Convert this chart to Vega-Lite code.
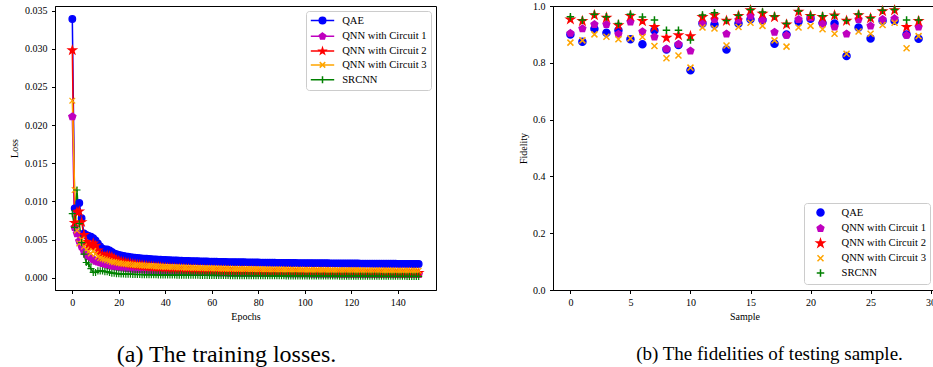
{
"$schema": "https://vega.github.io/schema/vega-lite/v6.json",
"background": "white",
"padding": {"left": 9, "top": 0, "right": 0, "bottom": 0},
"bounds": "flush",
"spacing": 117,
"config": {
  "view": {"stroke": "black", "strokeWidth": 1},
  "font": "Liberation Serif",
  "axis": {"grid": false, "domainColor": "black", "tickColor": "black", "labelColor": "black", "titleColor": "black", "labelFont": "Liberation Serif", "titleFont": "Liberation Serif", "labelFontSize": 10, "titleFontSize": 10, "titleFontWeight": "normal", "tickSize": 3.5, "labelPadding": 4, "titlePadding": 4, "domainWidth": 1, "tickWidth": 1},
  "legend": {"labelFont": "Liberation Serif", "labelFontSize": 10.6, "labelColor": "black"}
},
"resolve": {"scale": {"color": "independent", "fill": "independent", "stroke": "independent", "shape": "independent"}, "legend": {"color": "independent", "fill": "independent", "stroke": "independent", "shape": "independent"}},
"datasets": {
"leg": [{"k":"a","e":0,"v":0},{"k":"b","e":0,"v":0},{"k":"c","e":0,"v":0},{"k":"d","e":0,"v":0},{"k":"f","e":0,"v":0}],
"fid": [
{"s":0,"a":0.900,"b":0.904,"c":0.953,"d":0.871,"f":0.962},
{"s":1,"a":0.874,"b":0.920,"c":0.947,"d":0.879,"f":0.951},
{"s":2,"a":0.920,"b":0.935,"c":0.968,"d":0.900,"f":0.971},
{"s":3,"a":0.906,"b":0.935,"c":0.959,"d":0.892,"f":0.962},
{"s":4,"a":0.915,"b":0.901,"c":0.932,"d":0.883,"f":0.938},
{"s":5,"a":0.883,"b":0.944,"c":0.965,"d":0.886,"f":0.971},
{"s":6,"a":0.865,"b":0.910,"c":0.947,"d":0.891,"f":0.961},
{"s":7,"a":0.914,"b":0.891,"c":0.926,"d":0.859,"f":0.951},
{"s":8,"a":0.847,"b":0.849,"c":0.888,"d":0.816,"f":0.915},
{"s":9,"a":0.863,"b":0.866,"c":0.897,"d":0.826,"f":0.915},
{"s":10,"a":0.774,"b":0.842,"c":0.894,"d":0.783,"f":0.880},
{"s":11,"a":0.938,"b":0.941,"c":0.961,"d":0.924,"f":0.968},
{"s":12,"a":0.935,"b":0.953,"c":0.968,"d":0.921,"f":0.976},
{"s":13,"a":0.847,"b":0.902,"c":0.948,"d":0.861,"f":0.949},
{"s":14,"a":0.938,"b":0.951,"c":0.965,"d":0.926,"f":0.967},
{"s":15,"a":0.953,"b":0.965,"c":0.985,"d":0.941,"f":0.988},
{"s":16,"a":0.951,"b":0.951,"c":0.973,"d":0.930,"f":0.979},
{"s":17,"a":0.867,"b":0.908,"c":0.961,"d":0.879,"f":0.965},
{"s":18,"a":0.900,"b":0.897,"c":0.935,"d":0.857,"f":0.938},
{"s":19,"a":0.945,"b":0.953,"c":0.980,"d":0.924,"f":0.982},
{"s":20,"a":0.955,"b":0.959,"c":0.965,"d":0.930,"f":0.967},
{"s":21,"a":0.940,"b":0.937,"c":0.961,"d":0.918,"f":0.966},
{"s":22,"a":0.938,"b":0.926,"c":0.967,"d":0.902,"f":0.967},
{"s":23,"a":0.824,"b":0.902,"c":0.948,"d":0.832,"f":0.949},
{"s":24,"a":0.924,"b":0.953,"c":0.968,"d":0.910,"f":0.972},
{"s":25,"a":0.886,"b":0.930,"c":0.957,"d":0.902,"f":0.959},
{"s":26,"a":0.948,"b":0.953,"c":0.982,"d":0.933,"f":0.985},
{"s":27,"a":0.948,"b":0.956,"c":0.985,"d":0.941,"f":0.988},
{"s":28,"a":0.900,"b":0.897,"c":0.926,"d":0.851,"f":0.951},
{"s":29,"a":0.885,"b":0.926,"c":0.947,"d":0.894,"f":0.951}
],
"loss": [
{"e":0,"a":0.0339,"b":0.0211,"c":0.0298,"d":0.0232,"f":0.0084},
{"e":1,"a":0.0091,"b":0.0066,"c":0.0072,"d":0.0115,"f":0.0066},
{"e":2,"a":0.0088,"b":0.0058,"c":0.0086,"d":0.0062,"f":0.0115},
{"e":3,"a":0.0098,"b":0.0048,"c":0.0087,"d":0.0045,"f":0.0071},
{"e":4,"a":0.0078,"b":0.0041,"c":0.0073,"d":0.0050,"f":0.0046},
{"e":5,"a":0.0058,"b":0.0035,"c":0.0056,"d":0.0041,"f":0.0031},
{"e":6,"a":0.0056,"b":0.0031,"c":0.0047,"d":0.0037,"f":0.0020},
{"e":7,"a":0.0055,"b":0.0028,"c":0.0043,"d":0.0034,"f":0.0018},
{"e":8,"a":0.0054,"b":0.0026,"c":0.0041,"d":0.0032,"f":0.0012},
{"e":9,"a":0.0052,"b":0.0024,"c":0.0045,"d":0.0035,"f":0.0007},
{"e":10,"a":0.0049,"b":0.0022,"c":0.0042,"d":0.0031,"f":0.0007},
{"e":11,"a":0.0045,"b":0.0021,"c":0.0036,"d":0.0028,"f":0.0009},
{"e":12,"a":0.0041,"b":0.0020,"c":0.0031,"d":0.0026,"f":0.0009},
{"e":13,"a":0.0038,"b":0.0019,"c":0.0029,"d":0.0025,"f":0.0009},
{"e":14,"a":0.0037,"b":0.0018,"c":0.0028,"d":0.0024,"f":0.0008},
{"e":15,"a":0.0037,"b":0.0017,"c":0.0029,"d":0.0023,"f":0.0008},
{"e":16,"a":0.0036,"b":0.0016,"c":0.0028,"d":0.0022,"f":0.0007},
{"e":17,"a":0.0034,"b":0.00155,"c":0.0027,"d":0.0021,"f":0.0006},
{"e":18,"a":0.0032,"b":0.0015,"c":0.0025,"d":0.00205,"f":0.0006},
{"e":19,"a":0.0031,"b":0.00145,"c":0.0023,"d":0.0020,"f":0.00055},
{"e":20,"a":0.0030,"b":0.0014,"c":0.0022,"d":0.00193,"f":0.00052},
{"e":21,"a":0.00292,"b":0.00136,"c":0.00212,"d":0.00188,"f":0.00050},
{"e":22,"a":0.00286,"b":0.00132,"c":0.00205,"d":0.00184,"f":0.00049},
{"e":23,"a":0.00280,"b":0.00128,"c":0.00198,"d":0.00180,"f":0.00048},
{"e":24,"a":0.00275,"b":0.00124,"c":0.00191,"d":0.00177,"f":0.00047},
{"e":25,"a":0.00271,"b":0.00121,"c":0.00185,"d":0.00174,"f":0.00046},
{"e":26,"a":0.00267,"b":0.00118,"c":0.00179,"d":0.00171,"f":0.00045},
{"e":27,"a":0.00263,"b":0.00115,"c":0.00174,"d":0.00168,"f":0.00044},
{"e":28,"a":0.00260,"b":0.00112,"c":0.00169,"d":0.00166,"f":0.00043},
{"e":29,"a":0.00257,"b":0.00110,"c":0.00164,"d":0.00163,"f":0.00043},
{"e":30,"a":0.00254,"b":0.00107,"c":0.00160,"d":0.00161,"f":0.00042},
{"e":31,"a":0.00251,"b":0.00105,"c":0.00156,"d":0.00159,"f":0.00041},
{"e":32,"a":0.00249,"b":0.00103,"c":0.00152,"d":0.00157,"f":0.00041},
{"e":33,"a":0.00246,"b":0.00101,"c":0.00149,"d":0.00155,"f":0.00040},
{"e":34,"a":0.00244,"b":0.00099,"c":0.00145,"d":0.00153,"f":0.00040},
{"e":35,"a":0.00242,"b":0.00097,"c":0.00142,"d":0.00151,"f":0.00039},
{"e":36,"a":0.00240,"b":0.00095,"c":0.00139,"d":0.00149,"f":0.00039},
{"e":37,"a":0.00238,"b":0.00094,"c":0.00137,"d":0.00148,"f":0.00038},
{"e":38,"a":0.00236,"b":0.00092,"c":0.00134,"d":0.00146,"f":0.00038},
{"e":39,"a":0.00234,"b":0.00091,"c":0.00132,"d":0.00145,"f":0.00037},
{"e":40,"a":0.00233,"b":0.00089,"c":0.00129,"d":0.00143,"f":0.00037},
{"e":41,"a":0.00231,"b":0.00088,"c":0.00127,"d":0.00142,"f":0.00037},
{"e":42,"a":0.00230,"b":0.00087,"c":0.00125,"d":0.00141,"f":0.00036},
{"e":43,"a":0.00228,"b":0.00085,"c":0.00123,"d":0.00139,"f":0.00036},
{"e":44,"a":0.00227,"b":0.00084,"c":0.00121,"d":0.00138,"f":0.00036},
{"e":45,"a":0.00226,"b":0.00083,"c":0.00119,"d":0.00137,"f":0.00035},
{"e":46,"a":0.00224,"b":0.00082,"c":0.00118,"d":0.00136,"f":0.00035},
{"e":47,"a":0.00223,"b":0.00081,"c":0.00116,"d":0.00135,"f":0.00035},
{"e":48,"a":0.00222,"b":0.00080,"c":0.00114,"d":0.00134,"f":0.00034},
{"e":49,"a":0.00221,"b":0.00079,"c":0.00113,"d":0.00133,"f":0.00034},
{"e":50,"a":0.00220,"b":0.00078,"c":0.00111,"d":0.00132,"f":0.00034},
{"e":51,"a":0.00219,"b":0.00077,"c":0.00110,"d":0.00131,"f":0.00033},
{"e":52,"a":0.00218,"b":0.00076,"c":0.00108,"d":0.00130,"f":0.00033},
{"e":53,"a":0.00217,"b":0.00075,"c":0.00107,"d":0.00129,"f":0.00033},
{"e":54,"a":0.00216,"b":0.00075,"c":0.00106,"d":0.00128,"f":0.00033},
{"e":55,"a":0.00215,"b":0.00074,"c":0.00105,"d":0.00127,"f":0.00032},
{"e":56,"a":0.00214,"b":0.00073,"c":0.00103,"d":0.00126,"f":0.00032},
{"e":57,"a":0.00213,"b":0.00072,"c":0.00102,"d":0.00126,"f":0.00032},
{"e":58,"a":0.00213,"b":0.00072,"c":0.00101,"d":0.00125,"f":0.00032},
{"e":59,"a":0.00212,"b":0.00071,"c":0.00100,"d":0.00124,"f":0.00031},
{"e":60,"a":0.00211,"b":0.00070,"c":0.00099,"d":0.00123,"f":0.00031},
{"e":61,"a":0.00210,"b":0.00070,"c":0.00098,"d":0.00123,"f":0.00031},
{"e":62,"a":0.00210,"b":0.00069,"c":0.00097,"d":0.00122,"f":0.00031},
{"e":63,"a":0.00209,"b":0.00068,"c":0.00096,"d":0.00121,"f":0.00030},
{"e":64,"a":0.00208,"b":0.00068,"c":0.00095,"d":0.00121,"f":0.00030},
{"e":65,"a":0.00208,"b":0.00067,"c":0.00095,"d":0.00120,"f":0.00030},
{"e":66,"a":0.00207,"b":0.00067,"c":0.00094,"d":0.00119,"f":0.00030},
{"e":67,"a":0.00206,"b":0.00066,"c":0.00093,"d":0.00119,"f":0.00030},
{"e":68,"a":0.00206,"b":0.00066,"c":0.00092,"d":0.00118,"f":0.00029},
{"e":69,"a":0.00205,"b":0.00065,"c":0.00091,"d":0.00118,"f":0.00029},
{"e":70,"a":0.00205,"b":0.00065,"c":0.00091,"d":0.00117,"f":0.00029},
{"e":71,"a":0.00204,"b":0.00064,"c":0.00090,"d":0.00116,"f":0.00029},
{"e":72,"a":0.00204,"b":0.00064,"c":0.00089,"d":0.00116,"f":0.00029},
{"e":73,"a":0.00203,"b":0.00063,"c":0.00089,"d":0.00115,"f":0.00028},
{"e":74,"a":0.00203,"b":0.00063,"c":0.00088,"d":0.00115,"f":0.00028},
{"e":75,"a":0.00202,"b":0.00062,"c":0.00087,"d":0.00114,"f":0.00028},
{"e":76,"a":0.00202,"b":0.00062,"c":0.00087,"d":0.00114,"f":0.00028},
{"e":77,"a":0.00201,"b":0.00062,"c":0.00086,"d":0.00113,"f":0.00028},
{"e":78,"a":0.00201,"b":0.00061,"c":0.00085,"d":0.00113,"f":0.00028},
{"e":79,"a":0.00200,"b":0.00061,"c":0.00085,"d":0.00112,"f":0.00027},
{"e":80,"a":0.00200,"b":0.00060,"c":0.00084,"d":0.00112,"f":0.00027},
{"e":81,"a":0.00199,"b":0.00060,"c":0.00084,"d":0.00111,"f":0.00027},
{"e":82,"a":0.00199,"b":0.00060,"c":0.00083,"d":0.00111,"f":0.00027},
{"e":83,"a":0.00198,"b":0.00059,"c":0.00083,"d":0.00110,"f":0.00027},
{"e":84,"a":0.00198,"b":0.00059,"c":0.00082,"d":0.00110,"f":0.00027},
{"e":85,"a":0.00198,"b":0.00059,"c":0.00082,"d":0.00109,"f":0.00026},
{"e":86,"a":0.00197,"b":0.00058,"c":0.00081,"d":0.00109,"f":0.00026},
{"e":87,"a":0.00197,"b":0.00058,"c":0.00081,"d":0.00109,"f":0.00026},
{"e":88,"a":0.00196,"b":0.00058,"c":0.00080,"d":0.00108,"f":0.00026},
{"e":89,"a":0.00196,"b":0.00057,"c":0.00080,"d":0.00108,"f":0.00026},
{"e":90,"a":0.00196,"b":0.00057,"c":0.00079,"d":0.00107,"f":0.00026},
{"e":91,"a":0.00195,"b":0.00057,"c":0.00079,"d":0.00107,"f":0.00026},
{"e":92,"a":0.00195,"b":0.00056,"c":0.00078,"d":0.00107,"f":0.00025},
{"e":93,"a":0.00195,"b":0.00056,"c":0.00078,"d":0.00106,"f":0.00025},
{"e":94,"a":0.00194,"b":0.00056,"c":0.00078,"d":0.00106,"f":0.00025},
{"e":95,"a":0.00194,"b":0.00056,"c":0.00077,"d":0.00105,"f":0.00025},
{"e":96,"a":0.00194,"b":0.00055,"c":0.00077,"d":0.00105,"f":0.00025},
{"e":97,"a":0.00193,"b":0.00055,"c":0.00076,"d":0.00105,"f":0.00025},
{"e":98,"a":0.00193,"b":0.00055,"c":0.00076,"d":0.00104,"f":0.00025},
{"e":99,"a":0.00193,"b":0.00054,"c":0.00076,"d":0.00104,"f":0.00024},
{"e":100,"a":0.00192,"b":0.00054,"c":0.00075,"d":0.00104,"f":0.00024},
{"e":101,"a":0.00192,"b":0.00054,"c":0.00075,"d":0.00103,"f":0.00024},
{"e":102,"a":0.00192,"b":0.00054,"c":0.00075,"d":0.00103,"f":0.00024},
{"e":103,"a":0.00192,"b":0.00053,"c":0.00074,"d":0.00103,"f":0.00024},
{"e":104,"a":0.00191,"b":0.00053,"c":0.00074,"d":0.00102,"f":0.00024},
{"e":105,"a":0.00191,"b":0.00053,"c":0.00074,"d":0.00102,"f":0.00024},
{"e":106,"a":0.00191,"b":0.00053,"c":0.00073,"d":0.00102,"f":0.00024},
{"e":107,"a":0.00190,"b":0.00052,"c":0.00073,"d":0.00101,"f":0.00023},
{"e":108,"a":0.00190,"b":0.00052,"c":0.00073,"d":0.00101,"f":0.00023},
{"e":109,"a":0.00190,"b":0.00052,"c":0.00072,"d":0.00101,"f":0.00023},
{"e":110,"a":0.00190,"b":0.00052,"c":0.00072,"d":0.00100,"f":0.00023},
{"e":111,"a":0.00189,"b":0.00051,"c":0.00072,"d":0.00100,"f":0.00023},
{"e":112,"a":0.00189,"b":0.00051,"c":0.00072,"d":0.00100,"f":0.00023},
{"e":113,"a":0.00189,"b":0.00051,"c":0.00071,"d":0.00100,"f":0.00023},
{"e":114,"a":0.00189,"b":0.00051,"c":0.00071,"d":0.00099,"f":0.00023},
{"e":115,"a":0.00188,"b":0.00051,"c":0.00071,"d":0.00099,"f":0.00022},
{"e":116,"a":0.00188,"b":0.00050,"c":0.00071,"d":0.00099,"f":0.00022},
{"e":117,"a":0.00188,"b":0.00050,"c":0.00070,"d":0.00098,"f":0.00022},
{"e":118,"a":0.00188,"b":0.00050,"c":0.00070,"d":0.00098,"f":0.00022},
{"e":119,"a":0.00187,"b":0.00050,"c":0.00070,"d":0.00098,"f":0.00022},
{"e":120,"a":0.00187,"b":0.00050,"c":0.00070,"d":0.00098,"f":0.00022},
{"e":121,"a":0.00187,"b":0.00049,"c":0.00069,"d":0.00097,"f":0.00022},
{"e":122,"a":0.00187,"b":0.00049,"c":0.00069,"d":0.00097,"f":0.00022},
{"e":123,"a":0.00187,"b":0.00049,"c":0.00069,"d":0.00097,"f":0.00022},
{"e":124,"a":0.00186,"b":0.00049,"c":0.00069,"d":0.00097,"f":0.00021},
{"e":125,"a":0.00186,"b":0.00049,"c":0.00068,"d":0.00096,"f":0.00021},
{"e":126,"a":0.00186,"b":0.00048,"c":0.00068,"d":0.00096,"f":0.00021},
{"e":127,"a":0.00186,"b":0.00048,"c":0.00068,"d":0.00096,"f":0.00021},
{"e":128,"a":0.00186,"b":0.00048,"c":0.00068,"d":0.00096,"f":0.00021},
{"e":129,"a":0.00185,"b":0.00048,"c":0.00068,"d":0.00095,"f":0.00021},
{"e":130,"a":0.00185,"b":0.00048,"c":0.00067,"d":0.00095,"f":0.00021},
{"e":131,"a":0.00185,"b":0.00048,"c":0.00067,"d":0.00095,"f":0.00021},
{"e":132,"a":0.00185,"b":0.00047,"c":0.00067,"d":0.00095,"f":0.00021},
{"e":133,"a":0.00185,"b":0.00047,"c":0.00067,"d":0.00095,"f":0.00020},
{"e":134,"a":0.00184,"b":0.00047,"c":0.00067,"d":0.00094,"f":0.00020},
{"e":135,"a":0.00184,"b":0.00047,"c":0.00066,"d":0.00094,"f":0.00020},
{"e":136,"a":0.00184,"b":0.00047,"c":0.00066,"d":0.00094,"f":0.00020},
{"e":137,"a":0.00184,"b":0.00047,"c":0.00066,"d":0.00094,"f":0.00020},
{"e":138,"a":0.00184,"b":0.00046,"c":0.00066,"d":0.00094,"f":0.00020},
{"e":139,"a":0.00184,"b":0.00046,"c":0.00066,"d":0.00093,"f":0.00020},
{"e":140,"a":0.00183,"b":0.00046,"c":0.00066,"d":0.00093,"f":0.00020},
{"e":141,"a":0.00183,"b":0.00046,"c":0.00065,"d":0.00093,"f":0.00020},
{"e":142,"a":0.00183,"b":0.00046,"c":0.00065,"d":0.00093,"f":0.00020},
{"e":143,"a":0.00183,"b":0.00046,"c":0.00065,"d":0.00093,"f":0.00020},
{"e":144,"a":0.00183,"b":0.00045,"c":0.00065,"d":0.00092,"f":0.00019},
{"e":145,"a":0.00183,"b":0.00045,"c":0.00065,"d":0.00092,"f":0.00019},
{"e":146,"a":0.00182,"b":0.00045,"c":0.00065,"d":0.00092,"f":0.00019},
{"e":147,"a":0.00182,"b":0.00045,"c":0.00064,"d":0.00092,"f":0.00019},
{"e":148,"a":0.00182,"b":0.00045,"c":0.00064,"d":0.00092,"f":0.00019},
{"e":149,"a":0.00182,"b":0.00045,"c":0.00064,"d":0.00092,"f":0.00019}
]
},
"hconcat": [
{
  "width": 381, "height": 284,
  "title": {"text": "(a) The training losses.", "orient": "bottom", "anchor": "middle", "font": "Liberation Serif", "fontSize": 24, "fontWeight": "normal", "color": "black", "offset": 21, "dx": -19},
  "encoding": {
    "x": {"field": "e", "type": "quantitative", "scale": {"domain": [-7.45, 156.45], "nice": false, "zero": false}, "axis": {"values": [0,20,40,60,80,100,120,140], "format": "d", "title": "Epochs"}},
    "y": {"field": "v", "type": "quantitative", "scale": {"domain": [-0.0016, 0.0356], "nice": false, "zero": false}, "axis": {"values": [0,0.005,0.01,0.015,0.02,0.025,0.03,0.035], "format": ".3f", "title": "Loss", "labelPadding": 4.5, "titlePadding": 5}}
  },
  "layer": [
    {
      "data": {"name": "loss"},
      "transform": [{"fold": ["a","b","c","d","f"], "as": ["k","v"]}],
      "mark": {"type": "line", "strokeWidth": 1.5},
      "encoding": {
        "color": {"field": "k", "type": "nominal", "scale": {"domain": ["a","b","c","d","f"], "range": ["#0000ff","#bf00bf","#ff0000","#ffa500","#008000"]}, "legend": null}
      }
    },
    {
      "data": {"name": "loss"},
      "transform": [{"fold": ["a","b","c","d","f"], "as": ["k","v"]}],
      "mark": {"type": "point", "filled": true, "opacity": 1, "size": 90, "strokeWidth": 1.2},
      "encoding": {
        "shape": {"field": "k", "type": "nominal", "scale": {"domain": ["a","b","c","d","f"], "range": ["M0.7,0A0.7,0.7,0,1,1,-0.7,0A0.7,0.7,0,1,1,0.7,0Z","M0,-0.8L0.761,-0.247L0.47,0.647L-0.47,0.647L-0.761,-0.247Z","M0,-0.9L0.202,-0.278L0.856,-0.278L0.327,0.106L0.529,0.728L0,0.344L-0.529,0.728L-0.327,0.106L-0.856,-0.278L-0.202,-0.278Z","M-0.6,-0.6L0.6,0.6M-0.6,0.6L0.6,-0.6","M-0.75,0H0.75M0,-0.75V0.75"]}, "legend": null},
        "fill": {"field": "k", "type": "nominal", "scale": {"domain": ["a","b","c","d","f"], "range": ["#0000ff","#bf00bf","#ff0000","#ffa500","#008000"]}, "legend": null},
        "stroke": {"field": "k", "type": "nominal", "scale": {"domain": ["a","b","c","d","f"], "range": ["#0000ff","#bf00bf","#ff0000","#ffa500","#008000"]}, "legend": null},
        "order": {"field": "k", "type": "nominal"}
      }
    },
    {
      "data": {"name": "leg"},
      "mark": {"type": "point", "filled": true, "opacity": 0, "size": 100, "strokeWidth": 1.5},
      "encoding": {
        "shape": {"field": "k", "type": "nominal", "scale": {"domain": ["a","b","c","d","f"], "range": ["M-2.34,0H2.34M0.66,0A0.66,0.66,0,1,1,-0.66,0A0.66,0.66,0,1,1,0.66,0Z","M-2.34,0H2.34M0,-0.65L0.618,-0.201L0.382,0.526L-0.382,0.526L-0.618,-0.201Z","M-2.34,0H2.34M0,-0.62L0.139,-0.192L0.59,-0.192L0.225,0.073L0.364,0.502L0,0.237L-0.364,0.502L-0.225,0.073L-0.59,-0.192L-0.139,-0.192Z","M-2.34,0H2.34M-0.55,-0.55L0.55,0.55M-0.55,0.55L0.55,-0.55","M-2.34,0H2.34M0,-0.7V0.7"]},
          "legend": {"title": null, "orient": "top-right", "offset": 5, "symbolSize": 100, "symbolStrokeWidth": 1.5, "symbolOffset": 7, "labelOffset": 13.7, "rowPadding": 1.8, "padding": 3.5, "fillColor": "white", "strokeColor": "#cccccc", "cornerRadius": 3, "labelExpr": "{'a':'QAE','b':'QNN with Circuit 1','c':'QNN with Circuit 2','d':'QNN with Circuit 3','f':'SRCNN'}[datum.label]", "encode": {"symbols": {"update": {"opacity": {"value": 1}}}}}},
        "fill": {"field": "k", "type": "nominal", "scale": {"domain": ["a","b","c","d","f"], "range": ["#0000ff","#bf00bf","#ff0000","#ffa500","#008000"]},
          "legend": {"title": null, "orient": "top-right", "offset": 5, "symbolSize": 100, "symbolStrokeWidth": 1.5, "symbolOffset": 7, "labelOffset": 13.7, "rowPadding": 1.8, "padding": 3.5, "fillColor": "white", "strokeColor": "#cccccc", "cornerRadius": 3, "labelExpr": "{'a':'QAE','b':'QNN with Circuit 1','c':'QNN with Circuit 2','d':'QNN with Circuit 3','f':'SRCNN'}[datum.label]", "encode": {"symbols": {"update": {"opacity": {"value": 1}}}}}},
        "stroke": {"field": "k", "type": "nominal", "scale": {"domain": ["a","b","c","d","f"], "range": ["#0000ff","#bf00bf","#ff0000","#ffa500","#008000"]},
          "legend": {"title": null, "orient": "top-right", "offset": 5, "symbolSize": 100, "symbolStrokeWidth": 1.5, "symbolOffset": 7, "labelOffset": 13.7, "rowPadding": 1.8, "padding": 3.5, "fillColor": "white", "strokeColor": "#cccccc", "cornerRadius": 3, "labelExpr": "{'a':'QAE','b':'QNN with Circuit 1','c':'QNN with Circuit 2','d':'QNN with Circuit 3','f':'SRCNN'}[datum.label]", "encode": {"symbols": {"update": {"opacity": {"value": 1}}}}}}
      }
    }
  ],
  "resolve": {"scale": {"color": "independent", "shape": "independent", "fill": "independent", "stroke": "independent"}, "legend": {"color": "independent", "shape": "independent", "fill": "independent", "stroke": "independent"}}
},
{
  "width": 383, "height": 284,
  "title": {"text": "(b) The fidelities of testing sample.", "orient": "bottom", "anchor": "middle", "font": "Liberation Serif", "fontSize": 19, "fontWeight": "normal", "color": "black", "offset": 23, "dx": 25},
  "data": {"name": "fid"},
  "transform": [{"fold": ["a","b","c","d","f"], "as": ["k","v"]}],
  "mark": {"type": "point", "filled": true, "opacity": 1, "size": 100, "strokeWidth": 1.5},
  "encoding": {
    "x": {"field": "s", "type": "quantitative", "scale": {"domain": [-1.45, 30.45], "nice": false, "zero": false}, "axis": {"values": [0,5,10,15,20,25,30], "format": "d", "title": "Sample"}},
    "y": {"field": "v", "type": "quantitative", "scale": {"domain": [0, 1], "nice": false, "zero": false}, "axis": {"values": [0,0.2,0.4,0.6,0.8,1.0], "format": ".1f", "title": "Fidelity", "labelPadding": 4.5, "titlePadding": 4}},
    "shape": {"field": "k", "type": "nominal", "scale": {"domain": ["a","b","c","d","f"], "range": ["M0.7,0A0.7,0.7,0,1,1,-0.7,0A0.7,0.7,0,1,1,0.7,0Z","M0,-0.7L0.666,-0.216L0.411,0.566L-0.411,0.566L-0.666,-0.216Z","M0,-0.78L0.175,-0.241L0.742,-0.241L0.283,0.092L0.459,0.631L0,0.298L-0.459,0.631L-0.283,0.092L-0.742,-0.241L-0.175,-0.241Z","M-0.6,-0.6L0.6,0.6M-0.6,0.6L0.6,-0.6","M-0.75,0H0.75M0,-0.75V0.75"]},
      "legend": {"title": null, "orient": "bottom-right", "offset": 6, "symbolSize": 100, "symbolStrokeWidth": 1.5, "symbolOffset": 7, "labelOffset": 15, "rowPadding": 1.9, "padding": 3.5, "fillColor": "white", "strokeColor": "#cccccc", "cornerRadius": 3, "labelExpr": "{'a':'QAE','b':'QNN with Circuit 1','c':'QNN with Circuit 2','d':'QNN with Circuit 3','f':'SRCNN'}[datum.label]"}},
    "fill": {"field": "k", "type": "nominal", "scale": {"domain": ["a","b","c","d","f"], "range": ["#0000ff","#bf00bf","#ff0000","#ffa500","#008000"]},
      "legend": {"title": null, "orient": "bottom-right", "offset": 6, "symbolSize": 100, "symbolStrokeWidth": 1.5, "symbolOffset": 7, "labelOffset": 15, "rowPadding": 1.9, "padding": 3.5, "fillColor": "white", "strokeColor": "#cccccc", "cornerRadius": 3, "labelExpr": "{'a':'QAE','b':'QNN with Circuit 1','c':'QNN with Circuit 2','d':'QNN with Circuit 3','f':'SRCNN'}[datum.label]"}},
    "stroke": {"field": "k", "type": "nominal", "scale": {"domain": ["a","b","c","d","f"], "range": ["#0000ff","#bf00bf","#ff0000","#ffa500","#008000"]},
      "legend": {"title": null, "orient": "bottom-right", "offset": 6, "symbolSize": 100, "symbolStrokeWidth": 1.5, "symbolOffset": 7, "labelOffset": 15, "rowPadding": 1.9, "padding": 3.5, "fillColor": "white", "strokeColor": "#cccccc", "cornerRadius": 3, "labelExpr": "{'a':'QAE','b':'QNN with Circuit 1','c':'QNN with Circuit 2','d':'QNN with Circuit 3','f':'SRCNN'}[datum.label]"}},
    "order": {"field": "k", "type": "nominal"}
  }
}
]
}
